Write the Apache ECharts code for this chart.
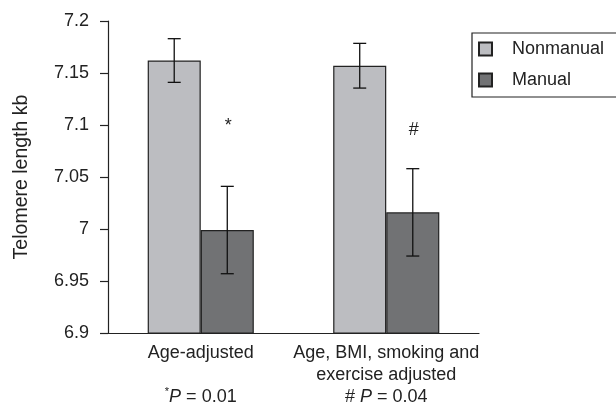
<!DOCTYPE html>
<html>
<head>
<meta charset="utf-8">
<script src="https://cdn.jsdelivr.net/npm/echarts@6/dist/echarts.min.js"></script>
<style>html,body{margin:0;padding:0;background:#fff}#c{width:616px;height:410px}</style>
</head>
<body>
<div id="c"></div>
<script>
const categories = ["Age-adjusted", "Age, BMI, smoking and\nexercise adjusted"];
const pNotes = [["*", "P", " = 0.01"], ["# ", "P", " = 0.04"]];
const seriesNames = ["Nonmanual", "Manual"];
const nonmanual = [7.162, 7.157];
const manual = [6.999, 7.016];
const nonmanualErr = [0.021, 0.0215];
const manualErr = [0.042, 0.042];
const sigMarks = ["*", "#"];
const sigY = [7.099, 7.095];
const yMin = 6.9, yMax = 7.2, yStep = 0.05;

const FONT = "'Liberation Sans', Arial, Helvetica, sans-serif";
const BAR_FRAC = 0.286;

function errSeries(vals, errs, side) {
  return {
    type: 'custom',
    z: 5,
    silent: true,
    data: vals.map((v, i) => [i, v - errs[i], v + errs[i]]),
    renderItem: function (params, api) {
      const band = api.size([1, 0])[0];
      const off = side * band * BAR_FRAC / 2;
      const lo = api.coord([api.value(0), api.value(1)]);
      const hi = api.coord([api.value(0), api.value(2)]);
      const x = lo[0] + off;
      const cap = 6.5;
      const st = { stroke: '#111', lineWidth: 1.3 };
      return {
        type: 'group',
        children: [
          { type: 'line', shape: { x1: x, y1: lo[1], x2: x, y2: hi[1] }, style: st },
          { type: 'line', shape: { x1: x - cap, y1: lo[1], x2: x + cap, y2: lo[1] }, style: st },
          { type: 'line', shape: { x1: x - cap, y1: hi[1], x2: x + cap, y2: hi[1] }, style: st }
        ]
      };
    }
  };
}

const chart = echarts.init(document.getElementById('c'), null, { renderer: 'canvas' });
chart.setOption({
  animation: false,
  backgroundColor: '#fff',
  textStyle: { fontFamily: FONT },
  grid: { left: 108, right: 137, top: 21, bottom: 77, containLabel: false },
  legend: {
    orient: 'vertical',
    left: 472,
    top: 33,
    padding: [7, 120, 8, 6],
    itemGap: 13,
    itemWidth: 13,
    itemHeight: 13,
    borderColor: '#222',
    borderWidth: 1.2,
    icon: 'rect',
    textStyle: { fontSize: 18, color: '#222', fontFamily: FONT, padding: [0, 0, 0, 15] },
    data: seriesNames
  },
  xAxis: {
    type: 'category',
    data: categories,
    axisLine: { lineStyle: { color: '#222', width: 1.2 } },
    axisTick: { show: false },
    axisLabel: {
      interval: 0,
      margin: 9,
      color: '#222',
      fontSize: 18,
      lineHeight: 22,
      fontFamily: FONT,
      formatter: function (v, i) {
        const p = pNotes[i];
        const lines = v.split('\n');
        while (lines.length < 2) lines.push('');
        const markStyle = p[0] === '*' ? 'sup' : 'norm';
        return lines.join('\n') + '\n{' + markStyle + '|' + p[0] + '}{it|' + p[1] + '}' + p[2];
      },
      rich: {
        sup: { fontSize: 11, color: '#222', fontFamily: FONT, verticalAlign: 'top', lineHeight: 22 },
        norm: { fontSize: 18, color: '#222', fontFamily: FONT, lineHeight: 22 },
        it: { fontStyle: 'italic', fontSize: 18, color: '#222', fontFamily: FONT, lineHeight: 22 }
      }
    }
  },
  yAxis: {
    type: 'value',
    min: yMin,
    max: yMax,
    interval: yStep,
    name: 'Telomere length kb',
    nameLocation: 'middle',
    nameGap: 76,
    nameTextStyle: { fontSize: 19.5, color: '#222', fontFamily: FONT },
    splitLine: { show: false },
    axisLine: { show: true, lineStyle: { color: '#222', width: 1.2 } },
    axisTick: { show: true, length: 8, lineStyle: { color: '#222', width: 1.2 } },
    axisLabel: {
      margin: 19,
      color: '#222',
      fontSize: 18,
      fontFamily: FONT,
      formatter: v => String(+v.toFixed(2))
    }
  },
  series: [
    {
      name: seriesNames[0],
      type: 'bar',
      data: nonmanual,
      barWidth: (BAR_FRAC * 100) + '%',
      barGap: '0%',
      itemStyle: { color: '#bcbdc1', borderColor: '#222', borderWidth: 1.2 }
    },
    {
      name: seriesNames[1],
      type: 'bar',
      data: manual,
      barWidth: (BAR_FRAC * 100) + '%',
      barGap: '0%',
      itemStyle: { color: '#717274', borderColor: '#222', borderWidth: 1.2 }
    },
    errSeries(nonmanual, nonmanualErr, -1),
    errSeries(manual, manualErr, 1),
    {
      type: 'custom',
      z: 6,
      silent: true,
      data: sigY.map((v, i) => [i, v]),
      renderItem: function (params, api) {
        const band = api.size([1, 0])[0];
        const off = band * BAR_FRAC / 2;
        const p = api.coord([api.value(0), api.value(1)]);
        return {
          type: 'text',
          style: {
            text: sigMarks[params.dataIndex],
            x: p[0] + off + 1,
            y: p[1],
            align: 'center',
            verticalAlign: 'middle',
            fontSize: 18,
            fontFamily: FONT,
            fill: '#222'
          }
        };
      }
    }
  ]
});
</script>
</body>
</html>
